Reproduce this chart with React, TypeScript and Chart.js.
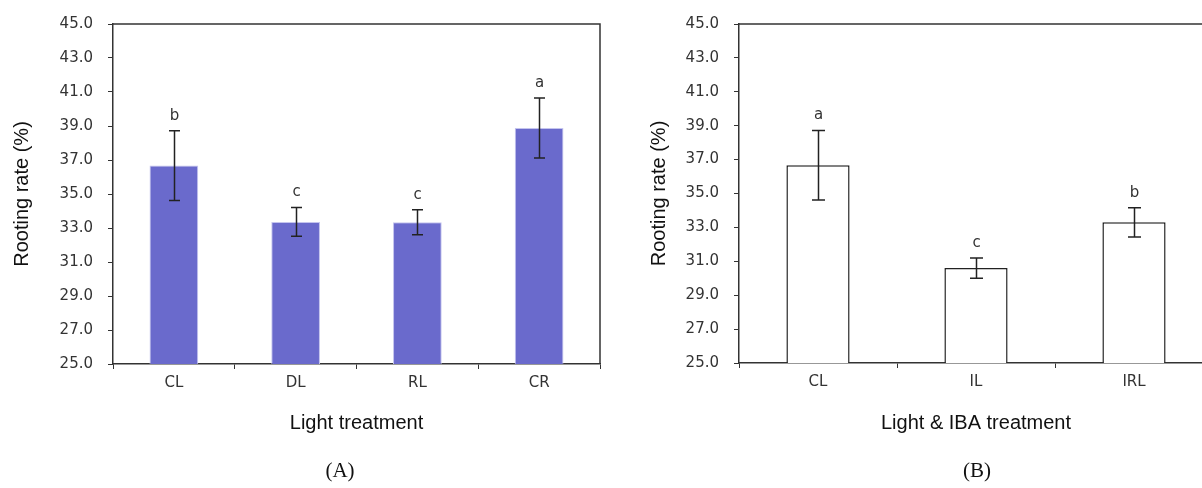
import React, { useEffect, useRef } from "react";
import { Chart, registerables } from "chart.js";

Chart.register(...registerables);

// Panel A data
const catsA = ["CL", "DL", "RL", "CR"];
const meansA = [36.67, 33.36, 33.34, 38.88];
const errsA = [2.05, 0.85, 0.74, 1.76];
const lettersA = ["b", "c", "c", "a"];

// Panel B data
const catsB = ["CL", "IL", "IRL"];
const meansB = [36.67, 30.6, 33.3];
const errsB = [2.05, 0.6, 0.86];
const lettersB = ["a", "c", "b"];

// Axis
const yMin = 25;
const yMax = 45;
const yStep = 2;

const tickFont = { family: "DejaVu Sans", size: 15 };
const titleFont = { family: "Liberation Sans", size: 20 };

function makeExtras(errors: number[], letters: string[], capW: number, drawRight: boolean) {
  return {
    id: "extras",
    afterDatasetsDraw(chart: any) {
      const { ctx, chartArea, scales } = chart;
      const x = scales.x;
      const y = scales.y;
      const data = chart.data.datasets[0].data as number[];
      ctx.save();
      ctx.strokeStyle = "#222";
      ctx.lineWidth = 1.5;
      ctx.fillStyle = "#333";
      ctx.font = "15px 'DejaVu Sans'";
      ctx.textAlign = "center";
      ctx.textBaseline = "alphabetic";
      data.forEach((v, i) => {
        const cx = Math.round(x.getPixelForValue(i)) + 0.5;
        const top = y.getPixelForValue(v + errors[i]);
        const bot = y.getPixelForValue(v - errors[i]);
        ctx.beginPath();
        ctx.moveTo(cx, top);
        ctx.lineTo(cx, bot);
        ctx.moveTo(cx - capW / 2, top);
        ctx.lineTo(cx + capW / 2, top);
        ctx.moveTo(cx - capW / 2, bot);
        ctx.lineTo(cx + capW / 2, bot);
        ctx.stroke();
        ctx.fillText(letters[i], cx, top - 11);
      });
      ctx.strokeStyle = "#333";
      ctx.lineWidth = 1.5;
      ctx.beginPath();
      ctx.moveTo(chartArea.left, chartArea.top);
      ctx.lineTo(chartArea.right, chartArea.top);
      if (drawRight) ctx.lineTo(chartArea.right, chartArea.bottom);
      ctx.stroke();
      ctx.restore();
    },
  };
}

type PanelProps = {
  cats: string[];
  means: number[];
  errs: number[];
  letters: string[];
  xTitle: string;
  fill: string;
  border: string;
  borderWidth: number;
  capW: number;
  yAxisWidth: number;
  xAxisHeight: number;
  padTop: number;
  padRight: number;
  yTitlePad: number;
  width: number;
  height: number;
  left: number;
};

function Panel(p: PanelProps) {
  const ref = useRef<HTMLCanvasElement | null>(null);
  useEffect(() => {
    if (!ref.current) return;
    const chart = new Chart(ref.current, {
      type: "bar",
      data: {
        labels: p.cats,
        datasets: [
          {
            data: p.means,
            backgroundColor: p.fill,
            borderColor: p.border,
            borderWidth: p.borderWidth,
            barPercentage: 0.4,
            categoryPercentage: 1,
          },
        ],
      },
      options: {
        animation: false,
        responsive: true,
        maintainAspectRatio: false,
        layout: { padding: { top: p.padTop, right: p.padRight, left: 0, bottom: 0 } },
        plugins: { legend: { display: false }, tooltip: { enabled: false } },
        scales: {
          x: {
            afterFit: (s: any) => {
              s.height = p.xAxisHeight;
            },
            grid: { display: true, drawOnChartArea: false, drawTicks: true, tickLength: 5, color: "#333", offset: true },
            border: { display: true, color: "#333", width: 1.5 },
            ticks: { font: tickFont, color: "#333", padding: 5 },
            title: { display: true, text: p.xTitle, font: titleFont, color: "#111", padding: { top: 0, bottom: 53 } },
          },
          y: {
            min: yMin,
            max: yMax,
            afterFit: (s: any) => {
              s.width = p.yAxisWidth;
            },
            grid: { display: true, drawOnChartArea: false, drawTicks: true, tickLength: 5, color: "#333" },
            border: { display: true, color: "#333", width: 1.5 },
            ticks: {
              stepSize: yStep,
              autoSkip: false,
              font: tickFont,
              color: "#333",
              padding: 15,
              callback: (v: any) => Number(v).toFixed(1),
            },
            title: { display: true, text: "Rooting rate (%)", font: titleFont, color: "#111", padding: { top: p.yTitlePad, bottom: 0 } },
          },
        },
      },
      plugins: [makeExtras(p.errs, p.letters, p.capW, true)],
    } as any);
    return () => chart.destroy();
  }, []);
  return (
    <div style={{ position: "absolute", left: p.left, top: 0, width: p.width, height: p.height }}>
      <canvas ref={ref} />
    </div>
  );
}

export default function App() {
  return (
    <div style={{ position: "absolute", left: 0, top: 0, width: 1202, height: 488, overflow: "hidden", background: "#fff" }}>
      <Panel
        cats={catsA}
        means={meansA}
        errs={errsA}
        letters={lettersA}
        xTitle="Light treatment"
        fill="rgb(106,106,204)"
        border="rgb(196,196,238)"
        borderWidth={1}
        capW={11}
        yAxisWidth={113}
        xAxisHeight={124}
        padTop={23}
        padRight={20}
        yTitlePad={10}
        width={620}
        height={488}
        left={0}
      />
      <Panel
        cats={catsB}
        means={meansB}
        errs={errsB}
        letters={lettersB}
        xTitle="Light & IBA treatment"
        fill="#ffffff"
        border="#222"
        borderWidth={1.5}
        capW={13}
        yAxisWidth={119}
        xAxisHeight={125}
        padTop={20}
        padRight={27}
        yTitlePad={27}
        width={620}
        height={488}
        left={620}
      />
      <div style={{ position: "absolute", left: 300, width: 80, top: 458, textAlign: "center", fontFamily: "'Liberation Serif'", fontSize: 21, color: "#111" }}>(A)</div>
      <div style={{ position: "absolute", left: 937, width: 80, top: 458, textAlign: "center", fontFamily: "'Liberation Serif'", fontSize: 21, color: "#111" }}>(B)</div>
    </div>
  );
}
